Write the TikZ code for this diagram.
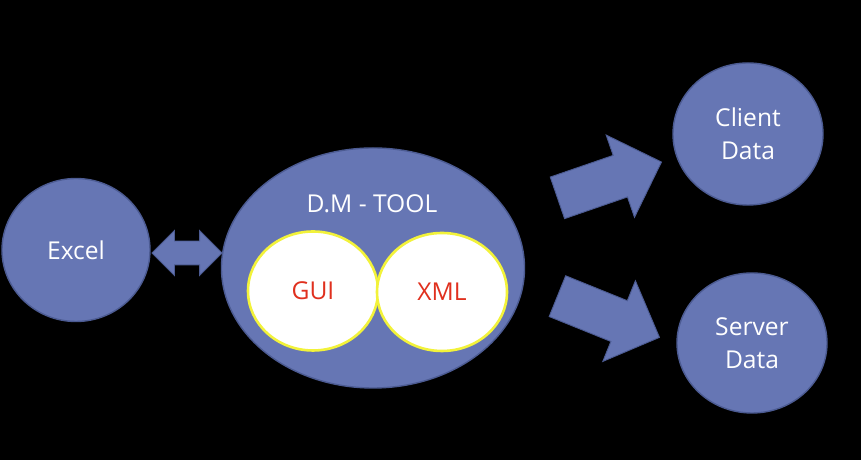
\documentclass[tikz,border=0pt]{standalone}
\usepackage{fontspec}
\setmainfont{Open Sans}
\usetikzlibrary{shapes.geometric,shapes.arrows}
\definecolor{dm-fill}{HTML}{6676B4}
\definecolor{dm-edge}{HTML}{4C5B92}
\definecolor{dm-yellow}{HTML}{F2F23A}
\definecolor{dm-red}{HTML}{E0301E}

\begin{document}
\begin{tikzpicture}[
    x=0.03cm, y=0.03cm,
    font=\fontsize{21}{28}\selectfont,
    bubble/.style={ellipse, fill=dm-fill, draw=dm-edge, line width=1.2pt, text=white, align=center, inner sep=0pt},
    part/.style={ellipse, fill=white, draw=dm-yellow, line width=2.2pt, text=dm-red, inner sep=0pt},
    blockarrow/.style={single arrow, fill=dm-fill, draw=dm-edge, line width=0.8pt, inner xsep=0pt, inner ysep=0.645cm,
        minimum height=3.3cm, minimum width=2.58cm, single arrow head extend=0.645cm, single arrow tip angle=90},
    linkarrow/.style={double arrow, fill=dm-fill, draw=dm-edge, line width=0.8pt, inner xsep=0pt, inner ysep=0.345cm,
        minimum height=2.1cm, minimum width=1.32cm, double arrow head extend=0.315cm, double arrow tip angle=90},
]
\path[use as bounding box] (0,0) rectangle (861,460);
\fill[black] (0,0) rectangle (861,460);

% source
\node[bubble, minimum width=4.44cm, minimum height=4.29cm] (excel) at (76,210) {Excel};

% tool
\node[bubble, minimum width=9.09cm, minimum height=7.2cm] (dm) at (373,192) {};
\node[text=white] (dmtitle) at (372,256) {D.M - TOOL};
\node[part, minimum width=3.9cm, minimum height=3.57cm] (gui) at (313,169) {GUI};
\node[part, minimum width=3.9cm, minimum height=3.54cm] (xml) at (442,168) {XML};

% targets
\node[bubble, minimum width=4.5cm, minimum height=4.26cm] (client) at (748,326) {Client\\Data};
\node[bubble, minimum width=4.5cm, minimum height=4.2cm] (server) at (752,117) {Server\\Data};

% arrows
\node[linkarrow] (link) at (187,207) {};
\node[blockarrow, rotate=19, anchor=tail] (toclient) at (557,262) {};
\node[blockarrow, rotate=-22, anchor=tail] (toserver) at (557,164) {};
\end{tikzpicture}
\end{document}
